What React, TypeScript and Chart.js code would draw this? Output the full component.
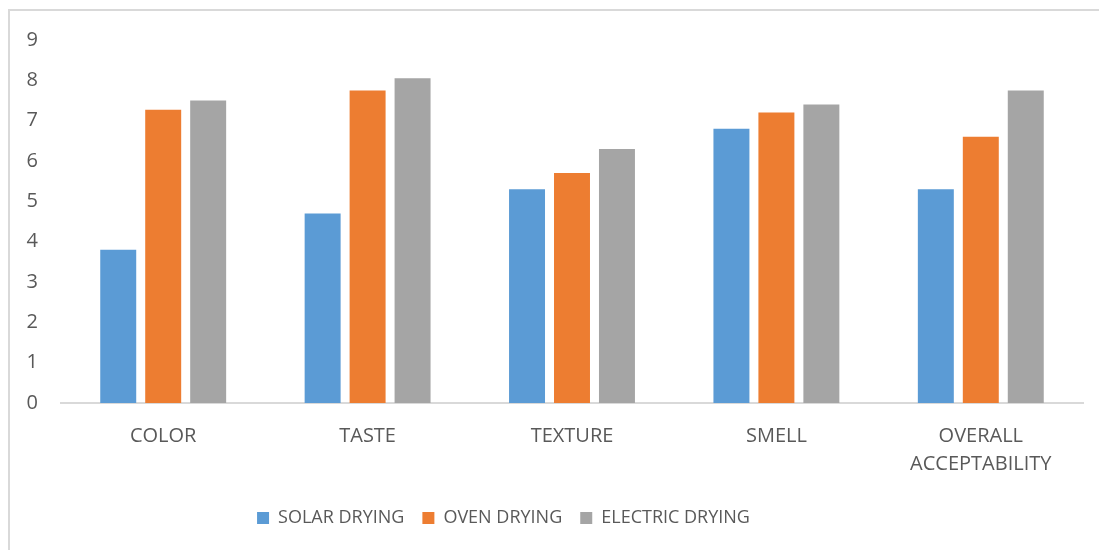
import React, { useEffect, useRef } from "react";
import { Chart, registerables } from "chart.js";

Chart.register(...registerables);

const categories: (string | string[])[] = ["COLOR", "TASTE", "TEXTURE", "SMELL", ["OVERALL", "ACCEPTABILITY"]];
const solarDrying = [3.8, 4.7, 5.3, 6.8, 5.3];
const ovenDrying = [7.27, 7.75, 5.7, 7.2, 6.6];
const electricDrying = [7.5, 8.05, 6.3, 7.4, 7.75];
const yTicks = [0, 1, 2, 3, 4, 5, 6, 7, 8, 9];

const FONT = "'Open Sans', 'Noto Sans', sans-serif";
const TEXT = "#595959";

const legendShift = {
  id: "legendShift",
  afterLayout(chart: any) {
    const l = chart.legend;
    if (!l) return;
    const dx = 503.5 - (l.left + l.right) / 2;
    l.left += dx;
    l.right += dx;
    l.top += 19.8;
    l.bottom += 19.8;
  },
};

export default function App() {
  const ref = useRef<HTMLCanvasElement | null>(null);
  useEffect(() => {
    if (!ref.current) return;
    const chart = new Chart(ref.current, {
      type: "bar",
      data: {
        labels: categories,
        datasets: [
          { label: "SOLAR DRYING", data: solarDrying, backgroundColor: "#5B9BD5" },
          { label: "OVEN DRYING", data: ovenDrying, backgroundColor: "#ED7D31" },
          { label: "ELECTRIC DRYING", data: electricDrying, backgroundColor: "#A5A5A5" },
        ],
      },
      plugins: [legendShift],
      options: {
        responsive: false,
        animation: false,
        devicePixelRatio: 1,
        datasets: { bar: { categoryPercentage: 0.66, barPercentage: 0.8 } },
        layout: { padding: { top: 40, right: 16, left: 0, bottom: 32.8 } },
        plugins: {
          tooltip: { enabled: false },
          legend: {
            position: "bottom",
            labels: {
              boxWidth: 12,
              boxHeight: 12,
              padding: 18,
              color: TEXT,
              font: { family: FONT, size: 18 },
            },
          },
        },
        scales: {
          x: {
            grid: { display: false, drawTicks: false },
            border: { display: true, color: "#d9d9d9", width: 2 },
            ticks: {
              color: TEXT,
              padding: 19,
              maxRotation: 0,
              autoSkip: false,
              font: { family: FONT, size: 20, lineHeight: 1.4 },
            },
            afterFit(scale: any) {
              scale.height = 68.2;
            },
          },
          y: {
            min: 0,
            max: 9,
            grid: { display: false, drawTicks: false },
            border: { display: false },
            afterBuildTicks(scale: any) {
              scale.ticks = yTicks.map((v) => ({ value: v }));
            },
            ticks: {
              color: TEXT,
              padding: 23,
              font: { family: FONT, size: 20 },
            },
            afterFit(scale: any) {
              scale.width = 61;
            },
          },
        },
      },
    });
    return () => chart.destroy();
  }, []);

  return (
    <div style={{ position: "absolute", left: 0, top: 0, width: 1099, height: 550, overflow: "hidden", background: "#fff" }}>
      <div
        style={{
          position: "absolute",
          left: 8,
          top: 9,
          width: 1100,
          height: 560,
          borderTop: "2px solid #d9d9d9",
          borderLeft: "2px solid #d9d9d9",
        }}
      />
      <canvas ref={ref} width={1099} height={550} style={{ position: "absolute", left: 0, top: 0, width: 1099, height: 550 }} />
    </div>
  );
}
